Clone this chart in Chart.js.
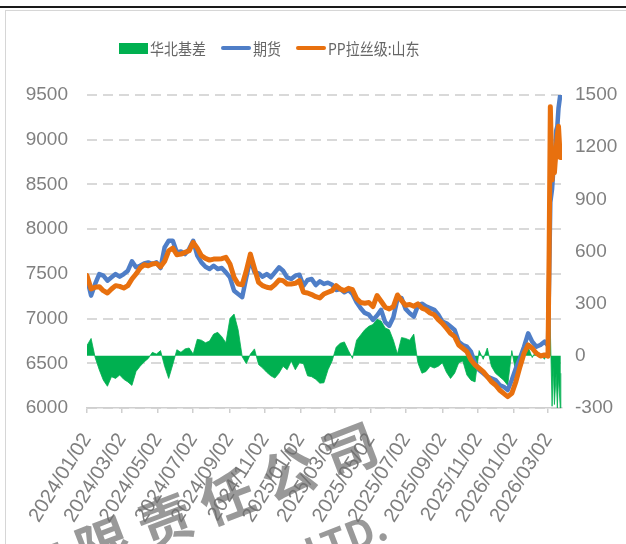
<!DOCTYPE html>
<html lang="zh-CN">
<head>
<meta charset="utf-8">
<title>PP 华北基差</title>
<script src="https://cdn.jsdelivr.net/npm/chart.js@4.4.1/dist/chart.umd.min.js"></script>
<style>
  html, body { margin: 0; padding: 0; background: #fff; }
  body { width: 626px; height: 544px; position: relative; overflow: hidden; }
  .linha-topo { position: absolute; left: 0; top: 6px; width: 626px; height: 2px; background: #1a1a1a; }
  .moldura { position: absolute; left: 5px; top: 10px; width: 640px; height: 560px;
             border-left: 1.5px solid #d6d6d6; border-top: 1.5px solid #d6d6d6; }
  #grafico { position: absolute; left: 0; top: 0; }
  .legenda { position: absolute; left: 119px; top: 38px; display: flex; align-items: center;
             font-family: "Noto Sans CJK SC", sans-serif; font-size: 14px; color: #666; white-space: nowrap; }
  .legenda .caixa { width: 29px; height: 11px; margin-right: 2px; }
  .legenda .traco { width: 30px; height: 4px; border-radius: 2px; margin-right: 2px; }
  .legenda .item { display: flex; align-items: center; margin-right: 15px; }
  .legenda span { display: inline-block; transform: scaleY(1.15); }
  .marca { position: absolute; transform-origin: 0 0; transform: rotate(-21deg);
           font-family: "Noto Sans CJK SC", sans-serif; font-weight: 700; color: rgba(110,110,110,0.7);
           line-height: 1; white-space: nowrap; pointer-events: none; }
</style>
</head>
<body>
<div class="linha-topo"></div>
<div class="moldura"></div>
<canvas id="grafico" width="626" height="544"></canvas>
<div class="legenda" id="legenda"></div>
<div class="marca" style="left:6px; top:550px; font-size:54px; letter-spacing:12px;">有限责任公司</div>
<div class="marca" style="left:214px; top:566px; font-size:40px;">CO., LTD.</div>

<script>
// datas semanais (e diárias no fim de março/2026)
const datas = [
  "2024/01/02", "2024/01/09", "2024/01/16", "2024/01/23", "2024/01/30", "2024/02/06", "2024/02/13", "2024/02/20",
  "2024/02/27", "2024/03/05", "2024/03/12", "2024/03/19", "2024/03/26", "2024/04/02", "2024/04/09", "2024/04/16",
  "2024/04/23", "2024/04/30", "2024/05/07", "2024/05/14", "2024/05/21", "2024/05/28", "2024/06/04", "2024/06/11",
  "2024/06/18", "2024/06/25", "2024/07/02", "2024/07/09", "2024/07/16", "2024/07/23", "2024/07/30", "2024/08/06",
  "2024/08/13", "2024/08/20", "2024/08/27", "2024/09/03", "2024/09/10", "2024/09/17", "2024/09/24", "2024/10/01",
  "2024/10/08", "2024/10/15", "2024/10/22", "2024/10/29", "2024/11/05", "2024/11/12", "2024/11/19", "2024/11/26",
  "2024/12/03", "2024/12/10", "2024/12/17", "2024/12/24", "2024/12/31", "2025/01/07", "2025/01/14", "2025/01/21",
  "2025/01/28", "2025/02/04", "2025/02/11", "2025/02/18", "2025/02/25", "2025/03/04", "2025/03/11", "2025/03/18",
  "2025/03/25", "2025/04/01", "2025/04/08", "2025/04/15", "2025/04/22", "2025/04/29", "2025/05/06", "2025/05/13",
  "2025/05/20", "2025/05/27", "2025/06/03", "2025/06/10", "2025/06/17", "2025/06/24", "2025/07/01", "2025/07/08",
  "2025/07/15", "2025/07/22", "2025/07/29", "2025/08/05", "2025/08/12", "2025/08/19", "2025/08/26", "2025/09/02",
  "2025/09/09", "2025/09/16", "2025/09/23", "2025/09/30", "2025/10/07", "2025/10/14", "2025/10/21", "2025/10/28",
  "2025/11/04", "2025/11/11", "2025/11/18", "2025/11/25", "2025/12/02", "2025/12/09", "2025/12/16", "2025/12/23",
  "2025/12/30", "2026/01/06", "2026/01/13", "2026/01/20", "2026/01/27", "2026/02/03", "2026/02/10", "2026/02/17",
  "2026/02/24", "2026/03/02", "2026/03/04", "2026/03/06", "2026/03/09", "2026/03/11", "2026/03/13", "2026/03/16",
  "2026/03/18", "2026/03/20", "2026/03/23", "2026/03/24",
];

// 期货
const qihuo = [
  7450, 7257, 7387, 7498, 7480, 7424, 7461, 7498, 7468, 7498, 7535, 7640, 7573, 7591, 7617, 7628,
  7610, 7628, 7565, 7796, 7870, 7870, 7740, 7751, 7721, 7777, 7870, 7703, 7628, 7580, 7554, 7591,
  7554, 7565, 7517, 7461, 7312, 7275, 7240, 7461, 7665, 7520, 7506, 7468, 7498, 7461, 7517, 7573,
  7535, 7461, 7442, 7480, 7491, 7368, 7431, 7442, 7375, 7416, 7387, 7401, 7379, 7320, 7331, 7294,
  7320, 7275, 7182, 7115, 7063, 7045, 6985, 7034, 7097, 6960, 6920, 7015, 7219, 7231, 7108, 7060,
  7022, 7145, 7166, 7136, 7118, 7099, 7043, 6965, 6947, 6910, 6872, 6742, 6705, 6686, 6630, 6500,
  6425, 6388, 6350, 6332, 6313, 6257, 6238, 6201, 6313, 6444, 6556, 6686, 6835, 6742, 6686, 6705,
  6742, 6700, 7500, 8300, 8450, 8650, 8650, 9100, 9150, 9350, 9500, 9470,
];

// PP拉丝级:山东
const shandong = [
  7480, 7331, 7350, 7357, 7312, 7286, 7331, 7368, 7360, 7342, 7368, 7442, 7498, 7565, 7602, 7591,
  7610, 7617, 7580, 7640, 7758, 7788, 7714, 7721, 7740, 7758, 7851, 7788, 7703, 7673, 7654, 7665,
  7665, 7669, 7684, 7610, 7461, 7387, 7379, 7535, 7721, 7560, 7405, 7368, 7350, 7342, 7379, 7431,
  7424, 7387, 7387, 7394, 7424, 7294, 7286, 7268, 7245, 7231, 7275, 7294, 7312, 7368, 7331, 7312,
  7338, 7323, 7223, 7179, 7171, 7179, 7134, 7257, 7194, 7127, 7108, 7134, 7264, 7201, 7149, 7157,
  7138, 7164, 7117, 7099, 7062, 7043, 6988, 6947, 6892, 6835, 6798, 6705, 6668, 6630, 6537, 6481,
  6444, 6406, 6350, 6294, 6257, 6201, 6164, 6127, 6164, 6294, 6462, 6612, 6705, 6668, 6612, 6582,
  6593, 6580, 7800, 9370, 8550, 8740, 8630, 8900, 9050, 9150, 8800, 8820,
];

// 华北基差 (eixo direito)
const jicha = [
  60, 100, -10, -80, -140, -175, -120, -130, -110, -135, -150, -170, -90, -60, -35, -15,
  20, 10, 30, -60, -130, -50, 35, 20, 40, 45, 10, 95, 90, 75, 85, 125,
  135, 110, 75, 215, 240, 150, -5, -45, 10, 40, -50, -70, -95, -115, -128, -100,
  -60, -80, -30, -80, -40, -45, -115, -120, -135, -157, -155, -80, -30, 50, 72, 80,
  30, -15, 90, 120, 150, 170, 180, 210, 200, 160, 150, 90, 10, 105, 100, 90,
  125, -40, -100, -90, -60, -70, -60, -40, -95, -130, -100, -40, -30, -110, -140, -150,
  30, -20, 45, -60, -100, -120, -140, -170, 30, -100, -20, 40, 50, -10, 30, 10,
  -20, 30, 500, 150, -290, -60, -280, -100, -300, -120, -300, -100,
];

const datasEixo = [
  "2024/01/02", "2024/03/02", "2024/05/02", "2024/07/02", "2024/09/02", "2024/11/02", "2025/01/02",
  "2025/03/02", "2025/05/02", "2025/07/02", "2025/09/02", "2025/11/02", "2026/01/02", "2026/03/02",
];
const dataFinal = "2026/03/26";

const ticksEsquerda = [6000, 6500, 7000, 7500, 8000, 8500, 9000, 9500];
const ticksDireita = [-300, 0, 300, 600, 900, 1200, 1500];

const series = [
  { nome: "华北基差", cor: "#00B050", tipo: "caixa" },
  { nome: "期货", cor: "#4F7EC7", tipo: "traco" },
  { nome: "PP拉丝级:山东", cor: "#E8700E", tipo: "traco" },
];

function diaDoIndice(texto) {
  const [a, m, d] = texto.split("/").map(Number);
  return Math.round((Date.UTC(a, m - 1, d) - Date.UTC(2024, 0, 2)) / 86400000);
}

function pontos(valores) {
  return datas.map((d, i) => ({ x: diaDoIndice(d), y: valores[i] }));
}

const rotuloDoDia = {};
datasEixo.forEach((d) => { rotuloDoDia[diaDoIndice(d)] = d; });

function montarLegenda() {
  const box = document.getElementById("legenda");
  box.innerHTML = "";
  series.forEach((s) => {
    box.innerHTML += `
      <div class="item">
        <div class="${s.tipo}" style="background:${s.cor}"></div>
        <span>${s.nome}</span>
      </div>`;
  });
}

const familiaEixo = '"Liberation Sans", Arial, sans-serif';

function montarGrafico() {
  const ctx = document.getElementById("grafico").getContext("2d");

  new Chart(ctx, {
    type: "line",
    data: {
      datasets: [
        {
          label: series[0].nome,
          data: pontos(jicha),
          yAxisID: "y1",
          fill: "origin",
          backgroundColor: series[0].cor,
          borderColor: series[0].cor,
          borderWidth: 0.8,
          pointRadius: 0,
          tension: 0,
          order: 3,
        },
        {
          label: series[1].nome,
          data: pontos(qihuo),
          yAxisID: "y",
          borderColor: series[1].cor,
          borderWidth: 4.5,
          borderJoinStyle: "round",
          borderCapStyle: "round",
          pointRadius: 0,
          tension: 0,
          fill: false,
          order: 2,
        },
        {
          label: series[2].nome,
          data: pontos(shandong),
          yAxisID: "y",
          borderColor: series[2].cor,
          borderWidth: 5,
          borderJoinStyle: "round",
          borderCapStyle: "round",
          pointRadius: 0,
          tension: 0,
          fill: false,
          order: 1,
        },
      ],
    },
    options: {
      responsive: false,
      animation: false,
      layout: { padding: { top: 95, left: 0, right: 0, bottom: 0 } },
      plugins: {
        legend: { display: false },
        tooltip: { enabled: false },
      },
      scales: {
        x: {
          type: "linear",
          min: 0,
          max: diaDoIndice(dataFinal),
          afterBuildTicks: (scale) => {
            scale.ticks = datasEixo.map((d) => ({ value: diaDoIndice(d) }));
          },
          afterFit: (scale) => { scale.height = 136; },
          grid: { drawOnChartArea: false, drawTicks: true, tickLength: 5, color: "#cfcfcf", lineWidth: 1.5 },
          border: { display: true, color: "#cfcfcf", width: 1.5 },
          ticks: {
            autoSkip: false,
            minRotation: 58,
            maxRotation: 58,
            padding: 16,
            color: "#7f7f7f",
            font: { family: familiaEixo, size: 20 },
            callback: (v) => rotuloDoDia[v] || "",
          },
        },
        y: {
          position: "left",
          min: 6000,
          max: 9500,
          afterBuildTicks: (scale) => { scale.ticks = ticksEsquerda.map((v) => ({ value: v })); },
          afterFit: (scale) => { scale.width = 87; },
          grid: { color: "#d9d9d9", lineWidth: 2, drawTicks: false },
          border: { display: false, dash: [10, 6] },
          ticks: { padding: 19, color: "#808080", font: { family: familiaEixo, size: 19 }, callback: (v) => String(v) },
        },
        y1: {
          position: "right",
          min: -300,
          max: 1500,
          afterBuildTicks: (scale) => { scale.ticks = ticksDireita.map((v) => ({ value: v })); },
          afterFit: (scale) => { scale.width = 64; },
          grid: { drawOnChartArea: false, drawTicks: false },
          border: { display: false },
          ticks: { padding: 13, color: "#808080", font: { family: familiaEixo, size: 19 }, callback: (v) => String(v) },
        },
      },
    },
  });
}

montarLegenda();
montarGrafico();
</script>
</body>
</html>
